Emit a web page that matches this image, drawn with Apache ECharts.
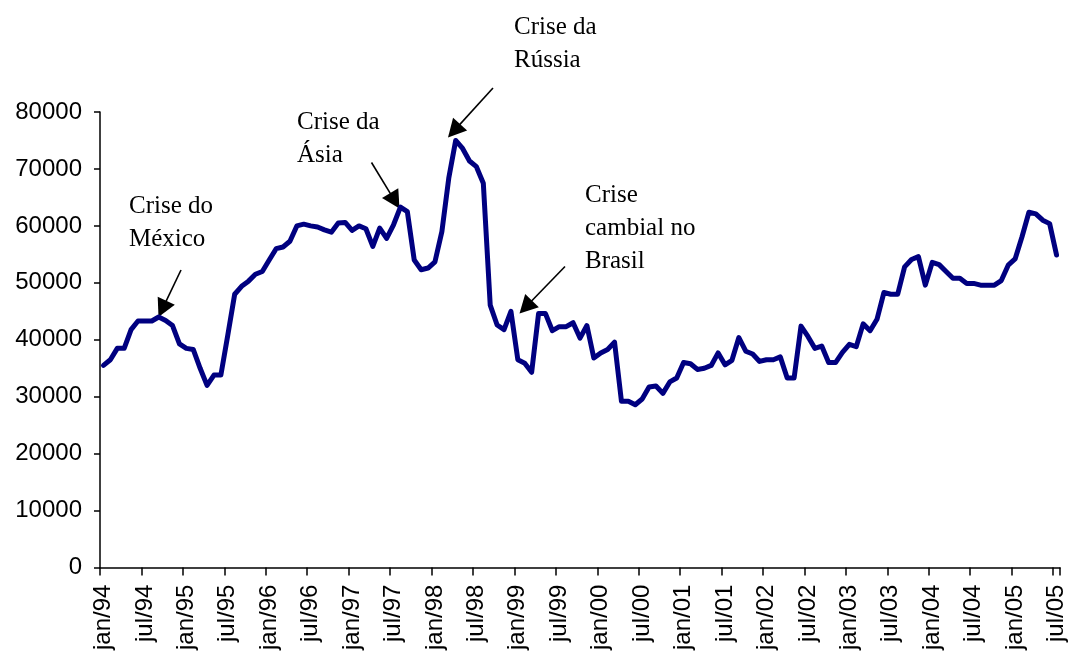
<!DOCTYPE html>
<html>
<head>
<meta charset="utf-8">
<script src="https://cdn.jsdelivr.net/npm/echarts@6/dist/echarts.min.js"></script>
<style>
html,body{margin:0;padding:0;background:#fff;}
#chart{width:1071px;height:653px;}
</style>
</head>
<body>
<div id="chart"></div>
<script>
// Monthly series, jan/94 .. jul/05
const monthNames = ['jan','fev','mar','abr','mai','jun','jul','ago','set','out','nov','dez'];
const startYear = 1994, endYear = 2005, endMonth = 6; // jul/05
const values = [
  35500, 36500, 38500, 38500, 41800, 43300, 43300, 43300, 44000, 43400,
  42500, 39300, 38500, 38300, 35000, 32000, 33800, 33800, 40800, 48000,
  49400, 50300, 51500, 52000, 54000, 56000, 56300, 57300, 60000, 60300,
  60000, 59800, 59300, 58900, 60500, 60600, 59200, 60000, 59500, 56400,
  59600, 57800, 60200, 63300, 62500, 54000, 52300, 52600, 53700, 59000,
  68400, 75000, 73600, 71400, 70400, 67500, 46100, 42600, 41800, 45000,
  36500, 35900, 34300, 44600, 44600, 41600, 42300, 42300, 43000, 40300,
  42500, 36800, 37700, 38300, 39600, 29200, 29200, 28600, 29600, 31700,
  31900, 30600, 32600, 33300, 36000, 35800, 34800, 35000, 35500, 37700,
  35600, 36400, 40400, 38000, 37500, 36200, 36500, 36500, 37000, 33300,
  33300, 42400, 40600, 38500, 38900, 36000, 36000, 37800, 39200, 38800,
  42800, 41600, 43600, 48300, 48000, 48000, 52800, 54100, 54600, 49600,
  53600, 53200, 52000, 50800, 50800, 49900, 49900, 49600, 49600, 49600,
  50400, 53100, 54200, 58100, 62400, 62100, 61000, 60400, 54900
];
const yTicks = {min: 0, max: 80000, interval: 10000};

// Annotations: text lines and arrows (pixel layout)
const annoTexts = [
  {lines: ['Crise do', 'México'], x: 129, y: 206.5},
  {lines: ['Crise da', 'Ásia'], x: 297, y: 122},
  {lines: ['Crise da', 'Rússia'], x: 514, y: 27},
  {lines: ['Crise', 'cambial no', 'Brasil'], x: 585, y: 195}
];
const annoArrows = [
  {from: [181, 270], to: [158.5, 317]},
  {from: [371.5, 162.5], to: [399.5, 208.5]},
  {from: [493, 88], to: [448, 137.5]},
  {from: [565, 266.5], to: [519.5, 313.5]}
];

const categories = [];
for (let y = startYear; y <= endYear; y++) {
  for (let m = 0; m < 12; m++) {
    if (y === endYear && m > endMonth) break;
    categories.push(monthNames[m] + '/' + String(y).slice(2));
  }
}

const graphics = [];
const lineH = 33;
annoTexts.forEach(a => {
  a.lines.forEach((t, k) => {
    graphics.push({
      type: 'text', x: a.x, y: a.y + k * lineH, silent: true,
      style: {text: t, fill: '#000', font: '25px "Liberation Serif", "Times New Roman", serif',
              textAlign: 'left', textVerticalAlign: 'middle', verticalAlign: 'middle'}
    });
  });
});
annoArrows.forEach(a => {
  const [x1, y1] = a.from, [x2, y2] = a.to;
  const dx = x2 - x1, dy = y2 - y1, L = Math.hypot(dx, dy);
  const ux = dx / L, uy = dy / L, hl = 18, hw = 9.5;
  const bx = x2 - ux * hl, by = y2 - uy * hl;
  graphics.push({type: 'line', silent: true,
    shape: {x1: x1, y1: y1, x2: bx + ux * 2, y2: by + uy * 2},
    style: {stroke: '#000', lineWidth: 1.6}});
  graphics.push({type: 'polygon', silent: true,
    shape: {points: [[x2, y2], [bx - uy * hw, by + ux * hw], [bx + uy * hw, by - ux * hw]]},
    style: {fill: '#000'}});
});

const chart = echarts.init(document.getElementById('chart'), null, {renderer: 'canvas'});
chart.setOption({
  animation: false,
  backgroundColor: '#fff',
  grid: {left: 100, right: 11, top: 112, bottom: 85, containLabel: false},
  xAxis: {
    type: 'category', data: categories, boundaryGap: true,
    axisLine: {lineStyle: {color: '#000', width: 1.5}},
    axisTick: {show: true, interval: 5, length: 8, lineStyle: {color: '#000', width: 1.5}},
    axisLabel: {interval: 5, rotate: 90, margin: 17, color: '#000', fontSize: 24,
                fontFamily: '"Liberation Sans", Arial, sans-serif'},
    splitLine: {show: false}
  },
  yAxis: {
    type: 'value', min: yTicks.min, max: yTicks.max, interval: yTicks.interval,
    axisLine: {show: true, lineStyle: {color: '#000', width: 1.5}},
    axisTick: {show: true, length: 6, lineStyle: {color: '#000', width: 1.5}},
    axisLabel: {margin: 18, color: '#000', fontSize: 24,
                fontFamily: '"Liberation Sans", Arial, sans-serif',
                formatter: v => String(v)},
    splitLine: {show: false}
  },
  series: [{
    type: 'line', data: values, showSymbol: false, symbol: 'none',
    lineStyle: {color: '#000080', width: 5, join: 'round', cap: 'round'},
    itemStyle: {color: '#000080'}
  }],
  graphic: graphics
});
</script>
</body>
</html>
